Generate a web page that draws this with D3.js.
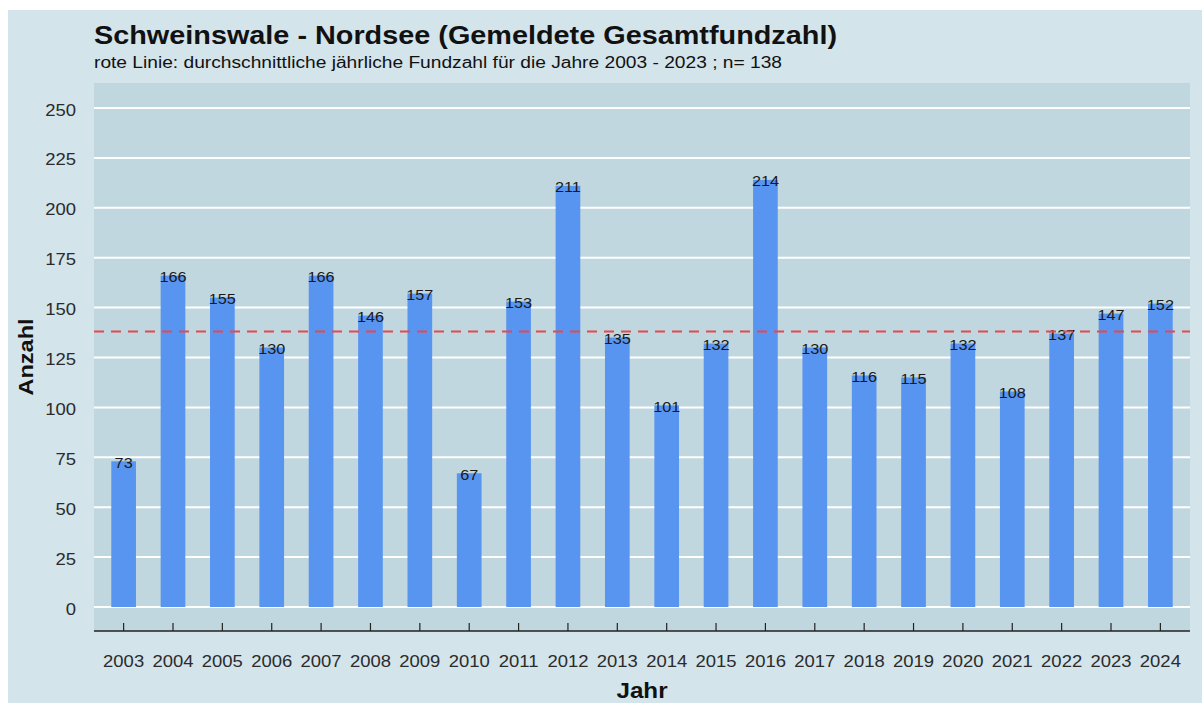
<!DOCTYPE html>
<html>
<head>
<meta charset="utf-8">
<script src="https://cdn.jsdelivr.net/npm/d3@7"></script>
<style>
  html, body { margin: 0; padding: 0; background: #ffffff; }
  svg { display: block; }
  text { font-family: "Liberation Sans", Arial, Helvetica, sans-serif; }
</style>
</head>
<body>
<svg id="chart" width="1202" height="703"></svg>
<script>
// Reported harbour porpoise strandings on the North Sea coast, per year
const years = ["2003","2004","2005","2006","2007","2008","2009","2010","2011","2012","2013",
               "2014","2015","2016","2017","2018","2019","2020","2021","2022","2023","2024"];
const counts = [73,166,155,130,166,146,157,67,153,211,135,101,132,214,130,116,115,132,108,137,147,152];
const meanValue = 138;
const yTicks = [0,25,50,75,100,125,150,175,200,225,250];

const titleText = "Schweinswale - Nordsee (Gemeldete Gesamtfundzahl)";
const subtitleText = "rote Linie: durchschnittliche jährliche Fundzahl für die Jahre 2003 - 2023 ; n= 138";

const svg = d3.select("#chart");
const W = 1202, H = 703;
const SX = 1.12; // slightly wide lettering

// outer background
svg.append("rect").attr("x", 8).attr("y", 10).attr("width", W - 8).attr("height", H - 10)
  .attr("fill", "#d3e4eb");

const panel = { left: 94, right: 1190, top: 83, bottom: 631 };

// discrete x scale with 0.6 band expansion on both sides
const step = (panel.right - panel.left) / (years.length - 1 + 1.2);
const x = d3.scaleBand().domain(years)
  .range([panel.left + 0.6 * step - step / 2, panel.right - 0.6 * step + step / 2])
  .paddingInner(0.5).paddingOuter(0.25);

const y = d3.scaleLinear().domain([0, 250]).range([607, 108]);

// panel
svg.append("rect").attr("x", panel.left).attr("y", panel.top)
  .attr("width", panel.right - panel.left).attr("height", panel.bottom - panel.top)
  .attr("fill", "#c0d7df");

// gridlines
svg.append("g").selectAll("line").data(yTicks).join("line")
  .attr("x1", panel.left).attr("x2", panel.right)
  .attr("y1", d => y(d)).attr("y2", d => y(d))
  .attr("stroke", "#ffffff").attr("stroke-width", 2);

// bars
svg.append("g").selectAll("rect").data(counts).join("rect")
  .attr("x", (d, i) => x(years[i]))
  .attr("width", x.bandwidth())
  .attr("y", d => y(d))
  .attr("height", d => y(0) - y(d))
  .attr("fill", "#5895f1");

// value labels
svg.append("g").selectAll("text").data(counts).join("text")
  .attr("transform", (d, i) => `translate(${x(years[i]) + x.bandwidth() / 2},${y(d) + 6.5}) scale(${SX},1)`)
  .attr("text-anchor", "middle")
  .attr("font-size", 14.5)
  .attr("fill", "#1a1a1a")
  .text(d => d);

// mean line
svg.append("line")
  .attr("x1", panel.left).attr("x2", panel.right)
  .attr("y1", y(meanValue)).attr("y2", y(meanValue))
  .attr("stroke", "#e8474c").attr("stroke-width", 2)
  .attr("stroke-dasharray", "10,7");

// y axis labels
svg.append("g").selectAll("text").data(yTicks).join("text")
  .attr("transform", d => `translate(76,${y(d) + 7.5}) scale(${SX},1)`)
  .attr("text-anchor", "end")
  .attr("font-size", 16.5)
  .attr("fill", "#2b2b2b")
  .text(d => d);

// x axis: line, ticks pointing up, labels below
const xAxis = svg.append("g");
xAxis.append("line").attr("x1", panel.left).attr("x2", panel.right)
  .attr("y1", panel.bottom).attr("y2", panel.bottom)
  .attr("stroke", "#222").attr("stroke-width", 1.5);
xAxis.selectAll("line.tick").data(years).join("line").attr("class", "tick")
  .attr("x1", d => x(d) + x.bandwidth() / 2).attr("x2", d => x(d) + x.bandwidth() / 2)
  .attr("y1", panel.bottom - 8).attr("y2", panel.bottom)
  .attr("stroke", "#222").attr("stroke-width", 1.2);
xAxis.selectAll("text").data(years).join("text")
  .attr("transform", d => `translate(${x(d) + x.bandwidth() / 2},667) scale(${SX},1)`)
  .attr("text-anchor", "middle")
  .attr("font-size", 16.5)
  .attr("fill", "#2b2b2b")
  .text(d => d);

// axis titles
svg.append("text")
  .attr("transform", `translate(${(panel.left + panel.right) / 2},698) scale(1.1,1)`)
  .attr("text-anchor", "middle").attr("font-size", 22).attr("font-weight", "bold")
  .attr("fill", "#111").text("Jahr");
svg.append("text")
  .attr("transform", `translate(33, ${(panel.top + panel.bottom) / 2}) rotate(-90) scale(1.12,1)`)
  .attr("text-anchor", "middle").attr("font-size", 21).attr("font-weight", "bold")
  .attr("fill", "#111").text("Anzahl");

// title and subtitle
svg.append("text").attr("x", panel.left).attr("y", 44)
  .attr("font-size", 26).attr("font-weight", "bold").attr("fill", "#111")
  .attr("textLength", 743).attr("lengthAdjust", "spacingAndGlyphs")
  .text(titleText);
svg.append("text").attr("x", panel.left).attr("y", 68)
  .attr("font-size", 16).attr("fill", "#111")
  .attr("textLength", 688).attr("lengthAdjust", "spacingAndGlyphs")
  .text(subtitleText);
</script>
</body>
</html>
